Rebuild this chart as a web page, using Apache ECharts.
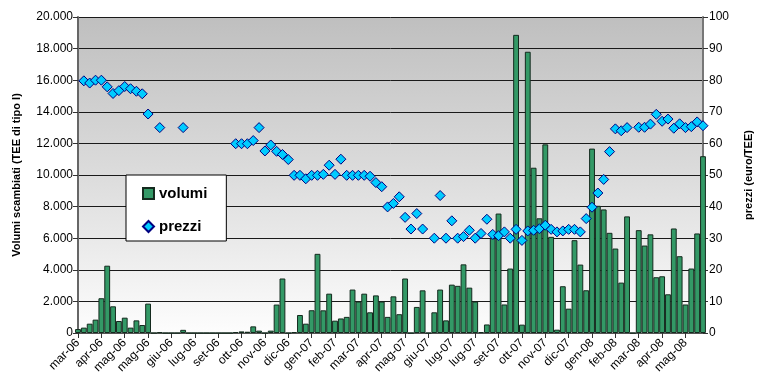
<!DOCTYPE html>
<html>
<head>
<meta charset="utf-8">
<script src="https://cdn.jsdelivr.net/npm/echarts@6/dist/echarts.min.js"></script>
<style>
  html, body { margin: 0; padding: 0; background: #ffffff; }
  #chart { width: 762px; height: 385px; }
</style>
</head>
<body>
<div id="chart"></div>
<script>
// Month labels shown every 4 weeks along the category axis
const monthLabels = [
  'mar-06', 'apr-06', 'mag-06', 'mag-06', 'giu-06', 'lug-06', 'set-06', 'ott-06', 'nov-06',
  'dic-06', 'gen-07', 'feb-07', 'mar-07', 'apr-07', 'mag-07', 'giu-07', 'lug-07', 'lug-07',
  'set-07', 'ott-07', 'nov-07', 'dic-07', 'gen-08', 'feb-08', 'mar-08', 'apr-08', 'mag-08'
];

// Weekly traded volumes (TEE di tipo I)
const volumes = [
  250, 340, 590, 845, 2200, 4260, 1690, 760, 970, 340, 800, 506,
  1860, 0, 50, 0, 0, 0, 200, 0, 0, 0, 0, 0,
  0, 0, 0, 60, 100, 80, 420, 150, 0, 150, 1800, 3450,
  0, 60, 1140, 590, 1440, 5010, 1435, 2490, 780, 920, 1020, 2750,
  1990, 2490, 1310, 2380, 1990, 1020, 2320, 1190, 3450, 0, 1650, 2700,
  0, 1310, 2750, 800, 3060, 2985, 4345, 2870, 1990, 60, 540, 6000,
  7560, 1805, 4080, 18870, 530, 17800, 10460, 7260, 11940, 6085, 210, 2960,
  1540, 5875, 4330, 2705, 11670, 8050, 7820, 6340, 5345, 3190, 7380, 0,
  6510, 5535, 6245, 3530, 3590, 2450, 6615, 4860, 1805, 4080, 6300, 11190
];

// Weekly prices (euro/TEE); null where no price was recorded
const prices = [
  null, 79.8, 79.1, 80.0, 80.0, 77.9, 75.8, 76.7, 78.0, 77.3, 76.5, 75.7,
  69.3, null, 65.0, null, null, null, 65.0, null, null, null, null, null,
  null, null, null, 59.9, 59.9, 59.9, 60.9, 65.0, 57.6, 59.5, 57.5, 56.5,
  54.9, 49.9, 49.9, 48.8, 49.9, 49.9, 50.2, 53.1, 50.2, 55.0, 49.9, 49.9,
  49.9, 49.9, 49.6, 47.6, 46.3, 39.9, 41.0, 43.1, 36.6, 32.9, 37.8, 32.9,
  null, 30.0, 43.5, 30.0, 35.5, 30.0, 30.5, 32.5, 30.0, 31.5, 36.0, 31.2,
  30.8, 32.0, 30.0, 32.8, 29.3, 32.3, 32.5, 33.0, 34.1, 32.8, 32.0, 32.3,
  32.8, 32.8, 32.0, 36.2, 39.8, 44.3, 48.6, 57.4, 64.6, 64.0, 65.0, null,
  65.1, 65.1, 66.1, 69.2, 67.0, 67.7, 64.8, 66.2, 65.0, 65.3, 66.8, 65.6
];

const weeks = volumes.map((_, i) => String(i));
const FONT = '"Liberation Sans", Arial, sans-serif';

function thousands(v) {
  if (v === 0) return '0';
  const k = Math.floor(v / 1000);
  const r = String(v % 1000).padStart(3, '0');
  return k + '.' + r;
}

const chart = echarts.init(document.getElementById('chart'), null, { renderer: 'canvas' });

chart.setOption({
  animation: false,
  backgroundColor: '#ffffff',
  textStyle: { fontFamily: FONT },
  grid: {
    left: 78, right: 49, top: 17, bottom: 52,
    show: true,
    borderWidth: 0,
    backgroundColor: {
      type: 'linear', x: 0, y: 0, x2: 0, y2: 1,
      colorStops: [
        { offset: 0, color: '#bfbfbf' },
        { offset: 0.5, color: '#dcdcdc' },
        { offset: 1, color: '#fdfdfd' }
      ]
    }
  },
  legend: {
    orient: 'vertical',
    left: 126, top: 175,
    padding: [11, 19, 7, 16],
    itemGap: 18,
    itemWidth: 11, itemHeight: 11,
    backgroundColor: '#ffffff',
    borderColor: '#000000',
    borderWidth: 1,
    borderRadius: 0,
    textStyle: { fontFamily: FONT, fontSize: 15, fontWeight: 'bold', color: '#000' },
    data: [
      { name: 'volumi', icon: 'rect' },
      { name: 'prezzi', icon: 'diamond' }
    ]
  },
  xAxis: {
    type: 'category',
    data: weeks,
    boundaryGap: false,
    axisLine: { show: true, lineStyle: { color: '#555', width: 1 } },
    axisTick: { show: true, interval: 3, length: 5, lineStyle: { color: '#333' } },
    axisLabel: {
      interval: 3,
      rotate: 45,
      margin: 8,
      fontSize: 12,
      fontFamily: FONT,
      color: '#000',
      formatter: (v, idx) => (idx % 4 === 0 ? monthLabels[idx / 4] : '')
    },
    splitLine: { show: false }
  },
  yAxis: [
    {
      type: 'value',
      min: 0, max: 20000, interval: 2000,
      name: 'Volumi scambiati (TEE di tipo I)',
      nameLocation: 'middle',
      nameRotate: 90,
      nameGap: 56,
      nameTextStyle: { fontFamily: FONT, fontSize: 11, fontWeight: 'bold', color: '#000' },
      axisLine: { show: true, lineStyle: { color: '#666', width: 2 } },
      axisTick: { show: true, length: 5, lineStyle: { color: '#333' } },
      axisLabel: { fontSize: 12, fontFamily: FONT, color: '#000', margin: 5, formatter: thousands },
      splitLine: { show: true, lineStyle: { color: '#1a1a1a', width: 1 } }
    },
    {
      type: 'value',
      min: 0, max: 100, interval: 10,
      position: 'right',
      name: 'prezzi (euro/TEE)',
      nameLocation: 'middle',
      nameRotate: 90,
      nameGap: 40,
      nameTextStyle: { fontFamily: FONT, fontSize: 11, fontWeight: 'bold', color: '#000' },
      axisLine: { show: true, lineStyle: { color: '#777', width: 2 } },
      axisTick: { show: true, length: 5, lineStyle: { color: '#333' } },
      axisLabel: { fontSize: 12, fontFamily: FONT, color: '#000', margin: 6 },
      splitLine: { show: false }
    }
  ],
  series: [
    {
      name: 'volumi',
      type: 'bar',
      yAxisIndex: 0,
      data: volumes,
      barCategoryGap: '0%',
      clip: true,
      itemStyle: { color: '#339966', borderColor: '#142a1e', borderWidth: 1 }
    },
    {
      name: 'prezzi',
      type: 'scatter',
      yAxisIndex: 1,
      data: prices,
      symbol: 'diamond',
      symbolSize: 10,
      z: 5,
      itemStyle: { color: '#00ccff', borderColor: '#000080', borderWidth: 1, opacity: 1 }
    }
  ]
});
</script>
</body>
</html>
